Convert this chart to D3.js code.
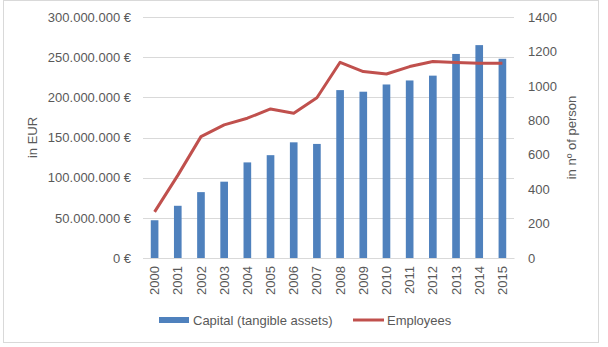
<!DOCTYPE html>
<html><head><meta charset="utf-8">
<script src="https://cdn.jsdelivr.net/npm/d3@7"></script>
<style>body{margin:0;background:#fff}svg{display:block}text{font-family:"Liberation Sans",Arial,sans-serif}</style>
</head><body><svg id="c" width="608" height="347"></svg>
<script>
const years = ["2000","2001","2002","2003","2004","2005","2006","2007","2008","2009","2010","2011","2012","2013","2014","2015"];
const capital = [47e6,65e6,82e6,95e6,119e6,128e6,144e6,142e6,209e6,207e6,216e6,221e6,227e6,254e6,265e6,248e6];
const employees = [268,480,705,773,812,866,841,931,1137,1083,1069,1112,1141,1135,1131,1131];
const leftTicks = [0,50e6,100e6,150e6,200e6,250e6,300e6];
const rightTicks = [0,200,400,600,800,1000,1200,1400];
const seriesNames = ["Capital (tangible assets)","Employees"];
const axisTitles = ["in EUR","in nº of person"];

const svg = d3.select("#c");
const m = {l:143, r:514, t:17, b:258};
const grey = "#595959", grid = "#d9d9d9";

svg.append("rect").attr("x",3.5).attr("y",0.5).attr("width",595).attr("height",342)
  .attr("fill","#fff").attr("stroke","#d9d9d9");

const x = d3.scaleBand().domain(years).range([m.l,m.r]).paddingInner(0.67).paddingOuter(0.335);
const yL = d3.scaleLinear().domain([0,300e6]).range([m.b,m.t]);
const yR = d3.scaleLinear().domain([0,1400]).range([m.b,m.t]);

const fmt = v => v===0 ? "0 €" : d3.format(",")(v).replace(/,/g,".")+" €";

// gridlines
svg.append("g").selectAll("line").data(leftTicks).join("line")
  .attr("x1",m.l).attr("x2",m.r).attr("y1",d=>Math.round(yL(d))+0.5).attr("y2",d=>Math.round(yL(d))+0.5)
  .attr("stroke",grid).attr("stroke-width",1);

// left axis
const gl = svg.append("g").attr("transform",`translate(${m.l},0)`)
  .call(d3.axisLeft(yL).tickValues(leftTicks).tickFormat(fmt).tickSize(0).tickPadding(12));
gl.select(".domain").remove();
gl.selectAll("text").attr("font-size",13).attr("fill",grey).attr("font-family","Liberation Sans, Arial, sans-serif");

// right axis
const gr = svg.append("g").attr("transform",`translate(${m.r},0)`)
  .call(d3.axisRight(yR).tickValues(rightTicks).tickFormat(d3.format("d")).tickSize(0).tickPadding(14));
gr.select(".domain").remove();
gr.selectAll("text").attr("font-size",13).attr("fill",grey).attr("font-family","Liberation Sans, Arial, sans-serif");

// bars
svg.append("g").selectAll("rect").data(years).join("rect")
  .attr("x",d=>x(d)).attr("width",x.bandwidth())
  .attr("y",(d,i)=>yL(capital[i])).attr("height",(d,i)=>m.b-yL(capital[i]))
  .attr("fill","#4f81bd");

// x axis
const gx = svg.append("g").attr("transform",`translate(0,${m.b})`)
  .call(d3.axisBottom(x).tickSize(0).tickPadding(0));
gx.select(".domain").attr("stroke",grid);
gx.selectAll("text").attr("font-size",13).attr("fill",grey)
  .attr("font-family","Liberation Sans, Arial, sans-serif")
  .attr("text-anchor","end").attr("dy","0.35em")
  .attr("transform","translate(0,8) rotate(-90)").attr("x",0).attr("y",0);

// line
const line = d3.line().x((d,i)=>x(years[i])+x.bandwidth()/2).y(d=>yR(d));
svg.append("path").datum(employees).attr("d",line).attr("fill","none")
  .attr("stroke","#c0504d").attr("stroke-width",3).attr("stroke-linejoin","round");

// axis titles
svg.append("text").attr("transform",`translate(37,137.5) rotate(-90)`).attr("text-anchor","middle")
  .attr("font-size",13).attr("fill",grey).text(axisTitles[0]);
svg.append("text").attr("transform",`translate(576,137.5) rotate(-90)`).attr("text-anchor","middle")
  .attr("font-size",13).attr("fill",grey).text(axisTitles[1]);

// legend
const lg = svg.append("g");
lg.append("rect").attr("x",159).attr("y",317).attr("width",30).attr("height",6).attr("fill","#4f81bd");
lg.append("text").attr("x",193).attr("y",324.5).attr("font-size",13).attr("fill",grey).text(seriesNames[0]);
lg.append("line").attr("x1",353).attr("x2",384).attr("y1",320).attr("y2",320).attr("stroke","#c0504d").attr("stroke-width",3);
lg.append("text").attr("x",387).attr("y",324.5).attr("font-size",13).attr("fill",grey).text(seriesNames[1]);
</script></body></html>
